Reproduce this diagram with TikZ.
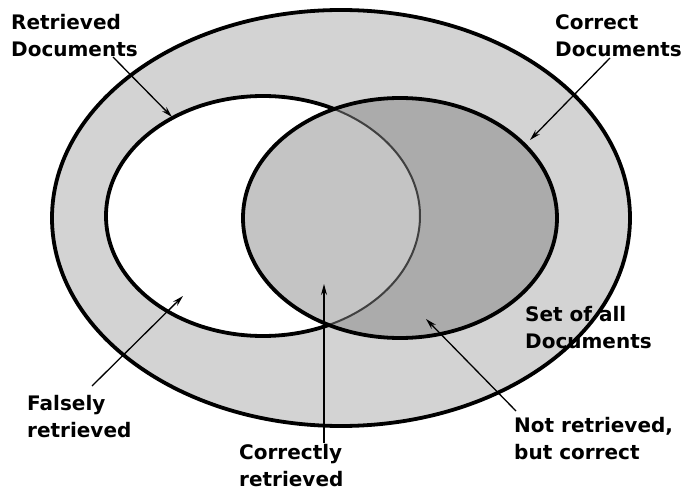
\documentclass[tikz,border=0pt]{standalone}
\usepackage{fontspec}
\setmainfont{DejaVu Sans}
\usetikzlibrary{arrows.meta}
\definecolor{ringgray}{HTML}{D3D3D3}
\definecolor{bothgray}{HTML}{C4C4C4}
\definecolor{missgray}{HTML}{ABABAB}
\definecolor{seamgray}{HTML}{404040}
\tikzset{
	setline/.style = {line width = 3.8pt, black},
	lbl/.style = {anchor = north west, inner sep = 0pt, align = left,
		font = \bfseries\fontsize{20}{27}\selectfont},
	pointer/.style = {-{Stealth[length = 11pt, width = 6pt]}, line width = 1.3pt}
}
\begin{document}
\begin{tikzpicture} [x = 1pt, y = -1pt]
	\useasboundingbox [fill = white] (0,0) rectangle (686,492);
	\draw [setline, fill = ringgray] (341,218) ellipse [x radius = 289, y radius = 208];
	\draw [setline, fill = white] (263,216) ellipse [x radius = 157, y radius = 120];
	\fill [missgray] (400,218) ellipse [x radius = 157, y radius = 120];
	\scope
	\clip (263,216) ellipse [x radius = 157, y radius = 120];
	\fill [bothgray] (400,218) ellipse [x radius = 157, y radius = 120];
	\endscope
	\scope
	\clip (400,218) ellipse [x radius = 157, y radius = 120];
	\draw [line width = 2pt, seamgray] (263,216) ellipse [x radius = 157, y radius = 120];
	\endscope
	\draw [setline] (400,218) ellipse [x radius = 157, y radius = 120];
	% labels
	\node [lbl] (retr) at (11,14) {Retrieved\\Documents};
	\node [lbl] (corr) at (555,14) {Correct\\Documents};
	\node [lbl] (all) at (525,306) {Set of all\\Documents};
	\node [lbl] (fals) at (27,395) {Falsely\\retrieved};
	\node [lbl] (hit) at (239,444) {Correctly\\retrieved};
	\node [lbl] (miss) at (514,417) {Not retrieved,\\but correct};
	% arrow ends
	\coordinate (retrT) at (113,57);
	\coordinate (retrH) at (172,117);
	\coordinate (corrT) at (610,58);
	\coordinate (corrH) at (530,140);
	\coordinate (falsT) at (92,386);
	\coordinate (falsH) at (183,296);
	\coordinate (hitT) at (324,443);
	\coordinate (hitH) at (324,284);
	\coordinate (missT) at (516,411);
	\coordinate (missH) at (426,319);
	\draw [pointer] (retrT) -- (retrH);
	\draw [pointer] (corrT) -- (corrH);
	\draw [pointer] (falsT) -- (falsH);
	\draw [pointer] (hitT) -- (hitH);
	\draw [pointer] (missT) -- (missH);
\end{tikzpicture}
\end{document}
